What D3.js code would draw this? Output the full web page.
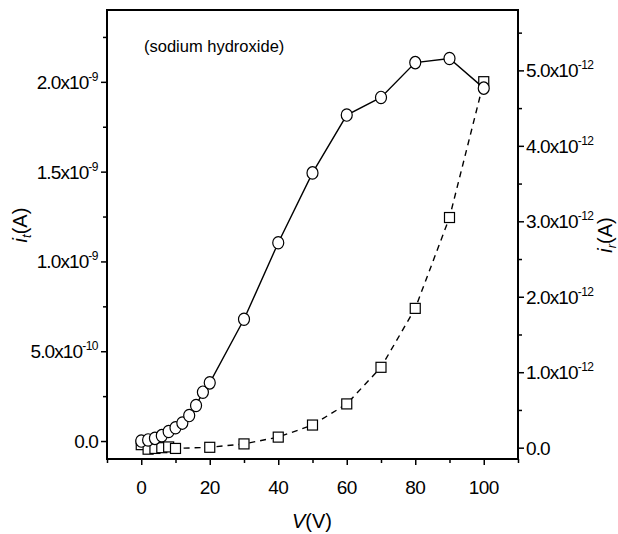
<!DOCTYPE html>
<html>
<head>
<meta charset="utf-8">
<script src="https://cdn.jsdelivr.net/npm/d3@7"></script>
<style>
  body { margin: 0; background: #fff; }
  svg { font-family: "Liberation Sans", Arial, sans-serif; }
</style>
</head>
<body>
<div id="viz"></div>
<script>
/*** data ***/
const voltsT = [0, 2, 4, 6, 8, 10, 12, 14, 16, 18, 20, 30, 40, 50, 60, 70, 80, 90, 100];
const currentT = [0, 0.006, 0.015, 0.03, 0.053, 0.074, 0.10, 0.142, 0.198, 0.272, 0.324,
                  0.678, 1.104, 1.493, 1.815, 1.913, 2.107, 2.13, 1.965]; // x1e-9 A
const voltsR = [0, 2, 4, 6, 8, 10, 20, 30, 40, 50, 60, 70, 80, 90, 100];
const currentR = [0.04, -0.02, -0.01, 0.0, 0.01, -0.01, 0.005, 0.05, 0.14, 0.30,
                  0.58, 1.065, 1.846, 3.05, 4.85]; // x1e-12 A
const xTicks = [0, 20, 40, 60, 80, 100];
const leftTicks = [0, 0.5, 1.0, 1.5, 2.0];
const leftTickLabels = [["0.0", ""], ["5.0x10", "-10"], ["1.0x10", "-9"], ["1.5x10", "-9"], ["2.0x10", "-9"]];
const rightTicks = [0, 1, 2, 3, 4, 5];
const rightTickLabels = [["0.0", ""], ["1.0x10", "-12"], ["2.0x10", "-12"], ["3.0x10", "-12"], ["4.0x10", "-12"], ["5.0x10", "-12"]];

/*** layout ***/
const width = 618, height = 534;
const m = { left: 107, right: 518, top: 10, bottom: 459 };

const x = d3.scaleLinear().domain([-10, 110]).range([m.left, m.right]);
const yL = d3.scaleLinear().domain([-0.1, 2.4]).range([m.bottom, m.top]);
const yR = d3.scaleLinear().domain([-0.15, 5.8]).range([m.bottom, m.top]);

const svg = d3.select("#viz").append("svg")
  .attr("width", width)
  .attr("height", height);

// axes: major ticks then minor ticks, no labels
function addAxis(axisFn, scale, ticks, minor, pos) {
  svg.append("g").attr("transform", pos)
    .call(axisFn(scale).tickValues(ticks).tickFormat("").tickSize(6).tickSizeOuter(0))
    .call(g => g.select(".domain").remove())
    .selectAll("line").attr("stroke-width", 1.5);
  svg.append("g").attr("transform", pos)
    .call(axisFn(scale).tickValues(minor).tickFormat("").tickSize(4).tickSizeOuter(0))
    .call(g => g.select(".domain").remove())
    .selectAll("line").attr("stroke-width", 1.5);
}
addAxis(d3.axisBottom, x, xTicks, [-10, 10, 30, 50, 70, 90, 110], `translate(0,${m.bottom})`);
addAxis(d3.axisLeft, yL, leftTicks, [0.25, 0.75, 1.25, 1.75, 2.25], `translate(${m.left},0)`);
addAxis(d3.axisRight, yR, rightTicks, [0.5, 1.5, 2.5, 3.5, 4.5, 5.5], `translate(${m.right},0)`);

// frame
svg.append("rect")
  .attr("x", m.left).attr("y", m.top)
  .attr("width", m.right - m.left).attr("height", m.bottom - m.top)
  .attr("fill", "none").attr("stroke", "#000").attr("stroke-width", 2);

// tick labels
svg.append("g").selectAll("text").data(xTicks).join("text")
  .attr("x", d => x(d)).attr("y", 494)
  .attr("text-anchor", "middle")
  .attr("font-size", 19)
  .attr("letter-spacing", -0.6)
  .text(d => d);

function sciLabels(ticks, labels, scale, xpos, anchor) {
  const t = svg.append("g").selectAll("text").data(ticks).join("text")
    .attr("x", xpos).attr("y", d => scale(d) + 7)
    .attr("text-anchor", anchor)
    .attr("font-size", 19)
    .attr("letter-spacing", -0.9);
  t.append("tspan").text((d, i) => labels[i][0]);
  t.append("tspan").attr("dy", -8).attr("font-size", 12).attr("letter-spacing", -0.5)
    .text((d, i) => labels[i][1]);
}
sciLabels(leftTicks, leftTickLabels, yL, 98, "end");
sciLabels(rightTicks, rightTickLabels, yR, 526, "start");

// axis titles
const tl = svg.append("text")
  .attr("transform", "translate(27,225) rotate(-90)")
  .attr("text-anchor", "middle").attr("font-size", 20);
tl.append("tspan").attr("font-style", "italic").text("i");
tl.append("tspan").attr("font-style", "italic").attr("font-size", 13).attr("dy", 4).text("t");
tl.append("tspan").attr("dy", -4).text("(A)");

const tr = svg.append("text")
  .attr("transform", "translate(612,235) rotate(-90)")
  .attr("text-anchor", "middle").attr("font-size", 20);
tr.append("tspan").attr("font-style", "italic").text("i");
tr.append("tspan").attr("font-style", "italic").attr("font-size", 13).attr("dy", 4).text("r");
tr.append("tspan").attr("dy", -4).text("(A)");

const tx = svg.append("text")
  .attr("x", 312).attr("y", 528)
  .attr("text-anchor", "middle").attr("font-size", 20);
tx.append("tspan").attr("font-style", "italic").text("V");
tx.append("tspan").text("(V)");

svg.append("text")
  .attr("x", 144).attr("y", 52)
  .attr("font-size", 16.5)
  .text("(sodium hydroxide)");

// series r: dashed line + squares
const ptsR = voltsR.map((v, i) => [v, currentR[i]]);
svg.append("path")
  .attr("d", d3.line().x(d => x(d[0])).y(d => yR(d[1]))(ptsR))
  .attr("fill", "none").attr("stroke", "#000")
  .attr("stroke-width", 1.4).attr("stroke-dasharray", "6,5");
svg.append("g").selectAll("rect").data(ptsR).join("rect")
  .attr("x", d => x(d[0]) - 5).attr("y", d => yR(d[1]) - 5)
  .attr("width", 10).attr("height", 10)
  .attr("fill", "#fff").attr("stroke", "#000").attr("stroke-width", 1.2);

// series t: solid line + circles
const ptsT = voltsT.map((v, i) => [v, currentT[i]]);
svg.append("path")
  .attr("d", d3.line().x(d => x(d[0])).y(d => yL(d[1]))(ptsT))
  .attr("fill", "none").attr("stroke", "#000").attr("stroke-width", 1.4);
svg.append("g").selectAll("ellipse").data(ptsT).join("ellipse")
  .attr("cx", d => x(d[0])).attr("cy", d => yL(d[1]))
  .attr("rx", 5.5).attr("ry", 6.2)
  .attr("fill", "#fff").attr("stroke", "#000").attr("stroke-width", 1.2);
</script>
</body>
</html>
